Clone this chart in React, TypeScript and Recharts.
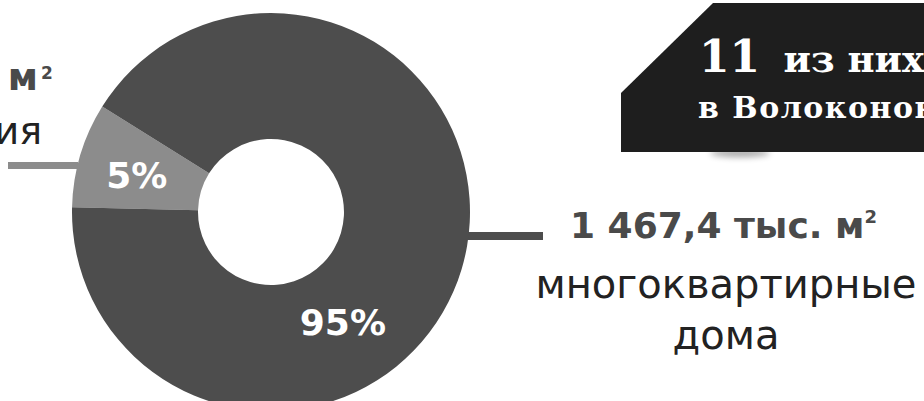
import { PieChart, Pie, Cell } from 'recharts';

// slices (the small slice is drawn wider than its "5%" label)
const categories = ['индивидуальные жилые строения', 'многоквартирные дома'];
const drawnShare = [8.5, 91.5];
const shareLabels = ['5%', '95%'];
const sliceColors = ['#8c8c8c', '#4d4d4d'];

const data = categories.map((name, i) => ({ name, value: drawnShare[i], label: shareLabels[i] }));

const RADIAN = Math.PI / 180;
const SANS = '"DejaVu Sans", "Open Sans", sans-serif';
const SLAB = '"DejaVu Serif", serif';

function renderShareLabel(props: any) {
  const { cx, cy, midAngle, innerRadius, outerRadius, index } = props;
  // the big slice's label sits lower-right in the original layout
  const angle = index === 0 ? midAngle : -57;
  const r = index === 0 ? (innerRadius + outerRadius) / 2 : 132;
  const x = cx + r * Math.cos(-angle * RADIAN) - (index === 0 ? 4 : 0);
  const y = cy + r * Math.sin(-angle * RADIAN) + (index === 0 ? 3 : 0);
  return (
    <text
      x={x}
      y={y}
      fill="#ffffff"
      textAnchor="middle"
      dominantBaseline="central"
      fontFamily={SANS}
      fontWeight={700}
      fontSize={36}
    >
      {data[index].label}
    </text>
  );
}

export default function App() {
  return (
    <div style={{ position: 'absolute', left: 0, top: 0, width: 924, height: 401, overflow: 'hidden', background: '#fff' }}>
      <PieChart width={924} height={401} margin={{ top: 0, right: 0, bottom: 0, left: 0 }}>
        <defs>
          <filter id="boxShadow" x="-50%" y="-200%" width="200%" height="500%">
            <feGaussianBlur stdDeviation="3" />
          </filter>
        </defs>

        <Pie
          data={data}
          dataKey="value"
          nameKey="name"
          cx={271}
          cy={212}
          innerRadius={73}
          outerRadius={199}
          startAngle={148}
          endAngle={508}
          stroke="none"
          label={renderShareLabel}
          labelLine={false}
          isAnimationActive={false}
        >
          {data.map((d, i) => (
            <Cell key={d.name} fill={sliceColors[i]} />
          ))}
        </Pie>

        {/* leader lines */}
        <rect x={8} y={162} width={70} height={7} fill="#8c8c8c" />
        <rect x={466} y={232} width={77} height={8} fill="#4d4d4d" />

        {/* left annotation (cut by the frame) */}
        <text x={38} y={90} textAnchor="end" fontFamily={SANS} fontWeight={700} fontSize={37} fill="#4a4a4a">
          м
        </text>
        <text x={41} y={79} fontFamily={SANS} fontWeight={700} fontSize={17} fill="#4a4a4a">
          2
        </text>
        <text x={42} y={144} textAnchor="end" fontFamily={SANS} fontSize={38} fill="#222">
          ия
        </text>

        {/* right annotation */}
        <text x={570} y={238} fontFamily={SANS} fontWeight={700} fontSize={36} fill="#4a4a4a">
          1 467,4 тыс. м
          <tspan fontSize={18} dy={-15}>2</tspan>
        </text>
        <text x={726} y={298} textAnchor="middle" fontFamily={SANS} fontSize={40} fill="#222">
          многоквартирные
        </text>
        <text x={726} y={349} textAnchor="middle" fontFamily={SANS} fontSize={40} fill="#222">
          дома
        </text>

        {/* dark callout box, top right */}
        <ellipse cx={740} cy={153} rx={30} ry={4} fill="#000" opacity={0.35} filter="url(#boxShadow)" />
        <polygon points="713,3 924,3 924,152 621,152 621,93" fill="#1e1e1e" />
        <text x={699} y={72} fontFamily={SLAB} fontWeight={700} fontSize={44} fill="#fff">
          11 <tspan fontSize={37} dx={8}>из них</tspan>
        </text>
        <text x={698} y={118} fontFamily={SLAB} fontWeight={700} fontSize={30} letterSpacing={1.5} fill="#fff">
          в Волоконовском районе
        </text>
      </PieChart>
    </div>
  );
}
